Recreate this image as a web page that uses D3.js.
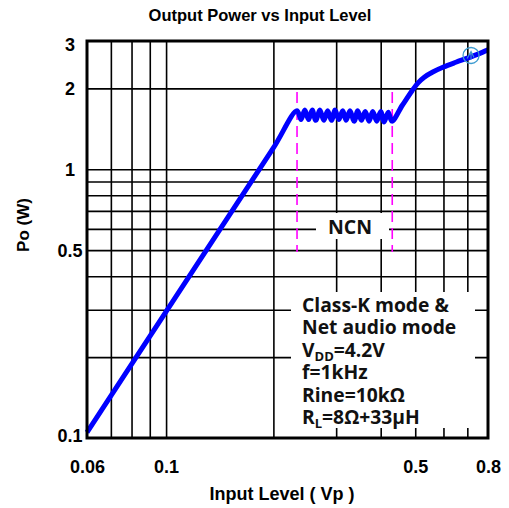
<!DOCTYPE html>
<html>
<head>
<meta charset="utf-8">
<script src="https://cdn.jsdelivr.net/npm/d3@7/dist/d3.min.js"></script>
<style>
  html, body { margin: 0; padding: 0; background: #fff; }
  svg { display: block; }
  .lbl { font-family: "Liberation Sans", Arial, sans-serif; font-weight: bold; fill: #000; }
  .note { font-family: "Open Sans", "Noto Sans", sans-serif; font-weight: 700; fill: #111; }
</style>
</head>
<body>
<svg id="chart" width="509" height="508"></svg>
<script>
// Input level (Vp) and output power (W) of the measured curve
const inputVp = [0.06, 0.1, 0.15, 0.2, 0.233,
  0.239, 0.245, 0.251, 0.257, 0.263, 0.270, 0.277, 0.284, 0.291, 0.298,
  0.305, 0.313, 0.320, 0.328, 0.337, 0.345, 0.353, 0.362, 0.371, 0.380,
  0.390, 0.400, 0.409, 0.420, 0.430,
  0.46, 0.49, 0.51, 0.53, 0.56, 0.6, 0.65, 0.7, 0.75, 0.8];
const outputW = [0.105, 0.295, 0.67, 1.2, 1.65,
  1.53, 1.66, 1.53, 1.66, 1.52, 1.66, 1.52, 1.65, 1.52, 1.66,
  1.53, 1.65, 1.52, 1.65, 1.51, 1.65, 1.52, 1.64, 1.51, 1.64,
  1.51, 1.64, 1.50, 1.63, 1.51,
  1.73, 1.96, 2.1, 2.2, 2.3, 2.4, 2.5, 2.59, 2.68, 2.78];

// Axis ticks
const xGrid = [0.07, 0.08, 0.09, 0.1, 0.2, 0.3, 0.4, 0.5, 0.6, 0.7];
const yGrid = [0.2, 0.3, 0.4, 0.5, 0.6, 0.7, 0.8, 0.9, 1, 2];
const xLabels = [0.06, 0.1, 0.5, 0.8];
const yLabels = [0.1, 0.5, 1, 2, 3];

// NCN region boundaries (Vp)
const ncnBounds = [0.233, 0.431];
// Cursor marker on the curve
const cursorPoint = [0.717, 2.65];

const noteLines = [
  [{t: "Class-K mode &"}],
  [{t: "Net audio mode"}],
  [{t: "V"}, {t: "DD", sub: true}, {t: "=4.2V"}],
  [{t: "f=1kHz"}],
  [{t: "Rine=10k\u03A9"}],
  [{t: "R"}, {t: "L", sub: true}, {t: "=8\u03A9+33\u00B5H"}]
];

const L = 87, R = 488, T = 41, B = 438;
const svg = d3.select("#chart");

const x = d3.scaleLog().domain([0.06, 0.8]).range([L, R]);
const y = d3.scaleLog().domain([0.1, 3]).range([B, T]);

// Grid lines
svg.append("g")
  .attr("transform", `translate(0,${B})`)
  .call(d3.axisBottom(x).tickValues(xGrid).tickSize(-(B - T)).tickFormat(""))
  .call(g => g.select(".domain").remove())
  .call(g => g.selectAll("line").attr("stroke", "#000").attr("stroke-width", 1.6));

svg.append("g")
  .attr("transform", `translate(${L},0)`)
  .call(d3.axisLeft(y).tickValues(yGrid).tickSize(-(R - L)).tickFormat(""))
  .call(g => g.select(".domain").remove())
  .call(g => g.selectAll("line").attr("stroke", "#000").attr("stroke-width", 1.6));

// Backgrounds behind annotation text
svg.append("rect").attr("x", 291).attr("y", 292).attr("width", 184).attr("height", 136).attr("fill", "#fff");
svg.append("rect").attr("x", 316).attr("y", 213).attr("width", 73).attr("height", 26).attr("fill", "#fff");

// NCN boundaries
svg.append("g").selectAll("line").data(ncnBounds).join("line")
  .attr("x1", d => x(d)).attr("x2", d => x(d))
  .attr("y1", 92).attr("y2", 252)
  .attr("stroke", "#ff00ff").attr("stroke-width", 1.6)
  .attr("stroke-dasharray", "11,6");

svg.append("text").attr("class", "note")
  .attr("x", 350).attr("y", 234)
  .attr("text-anchor", "middle").attr("font-size", 19.5)
  .text("NCN");

// Curve
const line = d3.line()
  .x((d, i) => x(inputVp[i]))
  .y((d, i) => y(outputW[i]))
  .curve(d3.curveCatmullRom.alpha(0.5));

svg.append("path")
  .attr("d", line(inputVp))
  .attr("fill", "none")
  .attr("stroke", "#0000ff")
  .attr("stroke-width", 5)
  .attr("stroke-linejoin", "round");

// Cursor marker
const cx = x(cursorPoint[0]), cy = y(cursorPoint[1]);
svg.append("circle")
  .attr("cx", cx).attr("cy", cy).attr("r", 8)
  .attr("fill", "none").attr("stroke", "#3d9bd0").attr("stroke-width", 1.3);
svg.append("path")
  .attr("d", `M${cx - 4},${cy + 3} L${cx},${cy - 4} L${cx + 3},${cy + 2} M${cx},${cy - 4} L${cx},${cy + 4}`)
  .attr("fill", "none").attr("stroke", "#3d9bd0").attr("stroke-width", 1.1);

// Frame
svg.append("rect").attr("x", L).attr("y", T).attr("width", R - L).attr("height", B - T)
  .attr("fill", "none").attr("stroke", "#000").attr("stroke-width", 3);

// Tick labels
svg.append("g")
  .attr("transform", `translate(0,${B})`)
  .call(d3.axisBottom(x).tickValues(xLabels).tickSize(0).tickPadding(22).tickFormat(d3.format("~g")))
  .call(g => g.select(".domain").remove())
  .call(g => g.selectAll("text").attr("class", "lbl").attr("font-size", 18));

svg.append("g")
  .attr("transform", `translate(${L},0)`)
  .call(d3.axisLeft(y).tickValues(yLabels).tickSize(0).tickFormat(d3.format("~g")))
  .call(g => g.select(".domain").remove())
  .call(g => g.selectAll(".tick").attr("transform", d => `translate(0,${Math.max(45, Math.min(436, y(d)))})`))
  .call(g => g.selectAll("text").attr("class", "lbl").attr("font-size", 18)
    .attr("text-anchor", "middle").attr("x", -17).attr("dy", "0.36em"));

// Titles
svg.append("text").attr("class", "lbl")
  .attr("x", 260).attr("y", 21).attr("text-anchor", "middle").attr("font-size", 16.5)
  .text("Output Power vs Input Level");

svg.append("text").attr("class", "lbl")
  .attr("x", 282).attr("y", 500).attr("text-anchor", "middle").attr("font-size", 18)
  .text("Input Level ( Vp )");

svg.append("text").attr("class", "lbl")
  .attr("transform", "translate(29,225) rotate(-90)")
  .attr("text-anchor", "middle").attr("font-size", 17)
  .text("Po (W)");

// Test conditions
const note = svg.append("text").attr("class", "note").attr("font-size", 19.3);
noteLines.forEach((parts, i) => {
  const base = 312 + i * 22.4;
  parts.forEach((p, j) => {
    const ts = note.append("tspan").text(p.t);
    if (j === 0) ts.attr("x", 302).attr("y", base);
    if (p.sub) ts.attr("font-size", 13).attr("y", base + 4);
    else if (j > 0) ts.attr("y", base);
  });
});
</script>
</body>
</html>
